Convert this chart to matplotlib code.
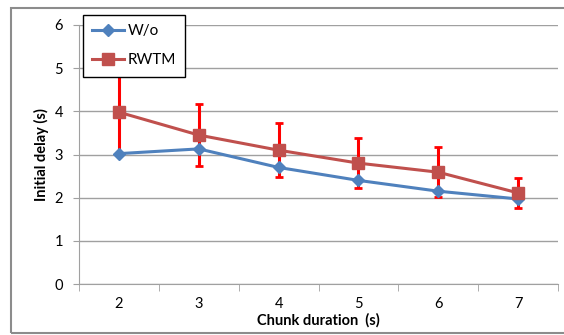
import matplotlib
matplotlib.use("Agg")
import matplotlib.pyplot as plt
from matplotlib.patches import Rectangle
import numpy as np

# ── data ──────────────────────────────────────────────────────────────────────
chunk_duration = ["2", "3", "4", "5", "6", "7"]
wo_delay       = [3.02, 3.13, 2.70, 2.40, 2.15, 1.97]
rwtm_delay     = [3.98, 3.45, 3.10, 2.80, 2.59, 2.11]
rwtm_err       = [0.96, 0.72, 0.62, 0.58, 0.58, 0.35]

BLUE = "#4F81BD"
RED  = "#C0504D"
GRID = "#A0A0A0"

plt.rcParams["font.family"] = ["Lato", "DejaVu Sans"]

fig = plt.figure(figsize=(5.64, 3.35), dpi=100)
ax = fig.add_axes([79 / 564, 51 / 335, 479 / 564, 259 / 335])

x = np.arange(len(chunk_duration))

ax.errorbar(x, rwtm_delay, yerr=rwtm_err, fmt="none", ecolor="red",
            elinewidth=2.2, capsize=3, capthick=2, zorder=2)
ax.plot(x, wo_delay, color=BLUE, lw=2.2, marker="D", ms=6.5,
        label="W/o", zorder=3)
ax.plot(x, rwtm_delay, color=RED, lw=2.2, marker="s", ms=9,
        label="RWTM", zorder=4)

ax.set_xlim(-0.5, len(x) - 0.5)
ax.set_ylim(0, 6)
ax.set_yticks(range(0, 7))
ax.set_xticks(x)
ax.set_xticklabels(chunk_duration)
ax.set_xticks(np.arange(-0.5, len(x)), minor=True)
ax.tick_params(axis="x", which="major", length=0, pad=9, labelsize=10.5)
ax.tick_params(axis="x", which="minor", length=5, color=GRID, direction="out")
ax.tick_params(axis="y", length=4.5, color=GRID, pad=7, labelsize=10.5)

ax.grid(axis="y", color=GRID, lw=1)
ax.set_axisbelow(True)
for side in ["top", "right"]:
    ax.spines[side].set_visible(False)
ax.spines["left"].set_color(GRID)
ax.spines["bottom"].set_color(GRID)

ax.set_xlabel("Chunk duration  (s)", fontweight="bold", fontsize=10.5, labelpad=2)
ax.set_ylabel("Initial delay (s)", fontweight="bold", fontsize=10.5, labelpad=4)

leg = ax.legend(loc="upper left", bbox_to_anchor=(4 / 479, 269 / 259),
                borderaxespad=0, fontsize=11, fancybox=False, framealpha=1,
                edgecolor="black", borderpad=0.6, labelspacing=1.0,
                handlelength=2.1, handletextpad=0.2)
leg.get_frame().set_linewidth(1.0)
leg.set_zorder(10)

# outer chart border
fig.patches.append(Rectangle((11 / 564, 2 / 335), 1.2, 325 / 335,
                             transform=fig.transFigure, fill=False,
                             edgecolor="#8C8C8C", lw=1.5))

fig.savefig("out.png", dpi=100)
